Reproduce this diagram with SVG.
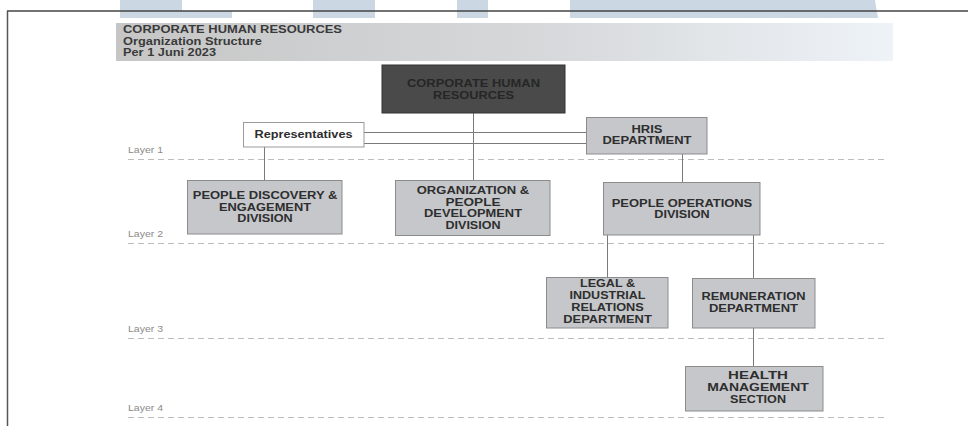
<svg xmlns="http://www.w3.org/2000/svg" width="968" height="426" viewBox="0 0 968 426">
<defs>
<linearGradient id="band" x1="0" y1="0" x2="1" y2="0">
<stop offset="0" stop-color="#c6c6c6"/>
<stop offset="0.55" stop-color="#d6d8da"/>
<stop offset="1" stop-color="#eef3f8"/>
</linearGradient>
</defs>
<style>
.wm{fill:#cbd8e4}
.hdr{font-family:"Liberation Sans",Arial,sans-serif;font-weight:bold;font-size:10.5px;fill:#3a3a3a}
.box{fill:#c5c7cb;stroke:#8c8c8c;stroke-width:1}
.bt{font-family:"Liberation Sans",Arial,sans-serif;font-weight:bold;font-size:10px;fill:#2e2e2e;text-anchor:middle}
.dt{font-family:"Liberation Sans",Arial,sans-serif;font-weight:bold;font-size:10px;fill:#262626;text-anchor:middle}
.lay{font-family:"Liberation Sans",Arial,sans-serif;font-size:9.5px;fill:#8a8a8a}
.dash{stroke:#bdbdbd;stroke-width:1;stroke-dasharray:6 4;fill:none}
.con{stroke:#7a7a7a;stroke-width:1;fill:none}
</style>
<rect x="0" y="0" width="968" height="426" fill="#ffffff"/>
<!-- watermark shapes -->
<polygon class="wm" points="120,0 182,0 182,11 232,11 232,18 120,18"/>
<rect class="wm" x="313" y="0" width="62" height="18"/>
<rect class="wm" x="457" y="0" width="31" height="18"/>
<polygon class="wm" points="570,0 875,0 878,18 570,18"/>
<!-- frame -->
<line x1="7" y1="11" x2="968" y2="11" stroke="#454545" stroke-width="1.5"/>
<line x1="7.5" y1="11" x2="7.5" y2="426" stroke="#555555" stroke-width="1.5"/>
<!-- header -->
<rect x="116" y="23" width="777" height="38" fill="url(#band)"/>
<text class="hdr" x="123" y="33" textLength="219" lengthAdjust="spacingAndGlyphs">CORPORATE HUMAN RESOURCES</text>
<text class="hdr" x="123" y="44.5" textLength="139" lengthAdjust="spacingAndGlyphs">Organization Structure</text>
<text class="hdr" x="123" y="55.5" textLength="93" lengthAdjust="spacingAndGlyphs">Per 1 Juni 2023</text>
<!-- layers -->
<g id="layers">
<text class="lay" x="128" y="152.5" textLength="35" lengthAdjust="spacingAndGlyphs">Layer 1</text>
<text class="lay" x="128" y="236.7" textLength="35" lengthAdjust="spacingAndGlyphs">Layer 2</text>
<text class="lay" x="128" y="331.7" textLength="35" lengthAdjust="spacingAndGlyphs">Layer 3</text>
<text class="lay" x="128" y="410.7" textLength="35" lengthAdjust="spacingAndGlyphs">Layer 4</text>
<line class="dash" x1="128" y1="159.5" x2="888" y2="159.5"/>
<line class="dash" x1="128" y1="243.5" x2="888" y2="243.5"/>
<line class="dash" x1="128" y1="338.5" x2="888" y2="338.5"/>
<line class="dash" x1="128" y1="417.5" x2="888" y2="417.5"/>
</g>
<!-- connectors -->
<g id="connectors">
<line class="con" x1="473.5" y1="113" x2="473.5" y2="180"/>
<line class="con" x1="364" y1="132.5" x2="586" y2="132.5"/>
<line class="con" x1="364" y1="143.5" x2="586" y2="143.5"/>
<line class="con" x1="264.5" y1="147" x2="264.5" y2="180"/>
<line class="con" x1="682.5" y1="154" x2="682.5" y2="182"/>
<line class="con" x1="607.5" y1="235" x2="607.5" y2="277"/>
<line class="con" x1="753.5" y1="235" x2="753.5" y2="278"/>
<line class="con" x1="753.5" y1="328" x2="753.5" y2="366"/>
</g>
<!-- nodes -->
<g id="corporate-hr">
<rect x="382" y="65" width="183" height="48" fill="#4a4a4a" stroke="#333333"/>
<text class="dt" x="473.5" y="87" textLength="133" lengthAdjust="spacingAndGlyphs">CORPORATE HUMAN</text>
<text class="dt" x="473.5" y="98.5" textLength="81" lengthAdjust="spacingAndGlyphs">RESOURCES</text>
</g>
<g id="representatives">
<rect x="243.5" y="122.5" width="120.5" height="24.5" fill="#ffffff" stroke="#9a9a9a"/>
<text class="bt" x="303.5" y="137.5" textLength="98" lengthAdjust="spacingAndGlyphs" style="font-size:10.5px">Representatives</text>
</g>
<g id="hris">
<rect class="box" x="586.5" y="117.5" width="120.5" height="36.5"/>
<text class="bt" x="647" y="132.7" textLength="31" lengthAdjust="spacingAndGlyphs">HRIS</text>
<text class="bt" x="647" y="144" textLength="89" lengthAdjust="spacingAndGlyphs">DEPARTMENT</text>
</g>
<g id="people-discovery">
<rect class="box" x="187.5" y="180.5" width="154.5" height="53.5"/>
<text class="bt" x="265" y="199" textLength="144.5" lengthAdjust="spacingAndGlyphs">PEOPLE DISCOVERY &amp;</text>
<text class="bt" x="265" y="210.7" textLength="92" lengthAdjust="spacingAndGlyphs">ENGAGEMENT</text>
<text class="bt" x="265" y="222.3" textLength="55.5" lengthAdjust="spacingAndGlyphs">DIVISION</text>
</g>
<g id="org-people-dev">
<rect class="box" x="395.5" y="180.5" width="154.5" height="55"/>
<text class="bt" x="473" y="194" textLength="112.5" lengthAdjust="spacingAndGlyphs">ORGANIZATION &amp;</text>
<text class="bt" x="473" y="205.7" textLength="55" lengthAdjust="spacingAndGlyphs">PEOPLE</text>
<text class="bt" x="473" y="217.3" textLength="98" lengthAdjust="spacingAndGlyphs">DEVELOPMENT</text>
<text class="bt" x="473" y="229" textLength="55" lengthAdjust="spacingAndGlyphs">DIVISION</text>
</g>
<g id="people-operations">
<rect class="box" x="603.5" y="182.5" width="156.5" height="52.5"/>
<text class="bt" x="682" y="206.7" textLength="140.5" lengthAdjust="spacingAndGlyphs">PEOPLE OPERATIONS</text>
<text class="bt" x="682" y="218.3" textLength="55.5" lengthAdjust="spacingAndGlyphs">DIVISION</text>
</g>
<g id="legal">
<rect class="box" x="546.5" y="277.5" width="121.5" height="50.5"/>
<text class="bt" x="607.5" y="287.3" textLength="55" lengthAdjust="spacingAndGlyphs">LEGAL &amp;</text>
<text class="bt" x="607.5" y="299" textLength="76" lengthAdjust="spacingAndGlyphs">INDUSTRIAL</text>
<text class="bt" x="607.5" y="310.7" textLength="72.5" lengthAdjust="spacingAndGlyphs">RELATIONS</text>
<text class="bt" x="607.5" y="323" textLength="88.5" lengthAdjust="spacingAndGlyphs">DEPARTMENT</text>
</g>
<g id="remuneration">
<rect class="box" x="692.5" y="278.5" width="122.5" height="49.5"/>
<text class="bt" x="753.5" y="300" textLength="104" lengthAdjust="spacingAndGlyphs">REMUNERATION</text>
<text class="bt" x="753.5" y="311.7" textLength="89" lengthAdjust="spacingAndGlyphs">DEPARTMENT</text>
</g>
<g id="health">
<rect class="box" x="685.5" y="366.5" width="137.5" height="44.5"/>
<text class="bt" x="758" y="379" textLength="60" lengthAdjust="spacingAndGlyphs">HEALTH</text>
<text class="bt" x="758" y="390.7" textLength="101.5" lengthAdjust="spacingAndGlyphs">MANAGEMENT</text>
<text class="bt" x="758" y="402.7" textLength="56" lengthAdjust="spacingAndGlyphs">SECTION</text>
</g>
</svg>
